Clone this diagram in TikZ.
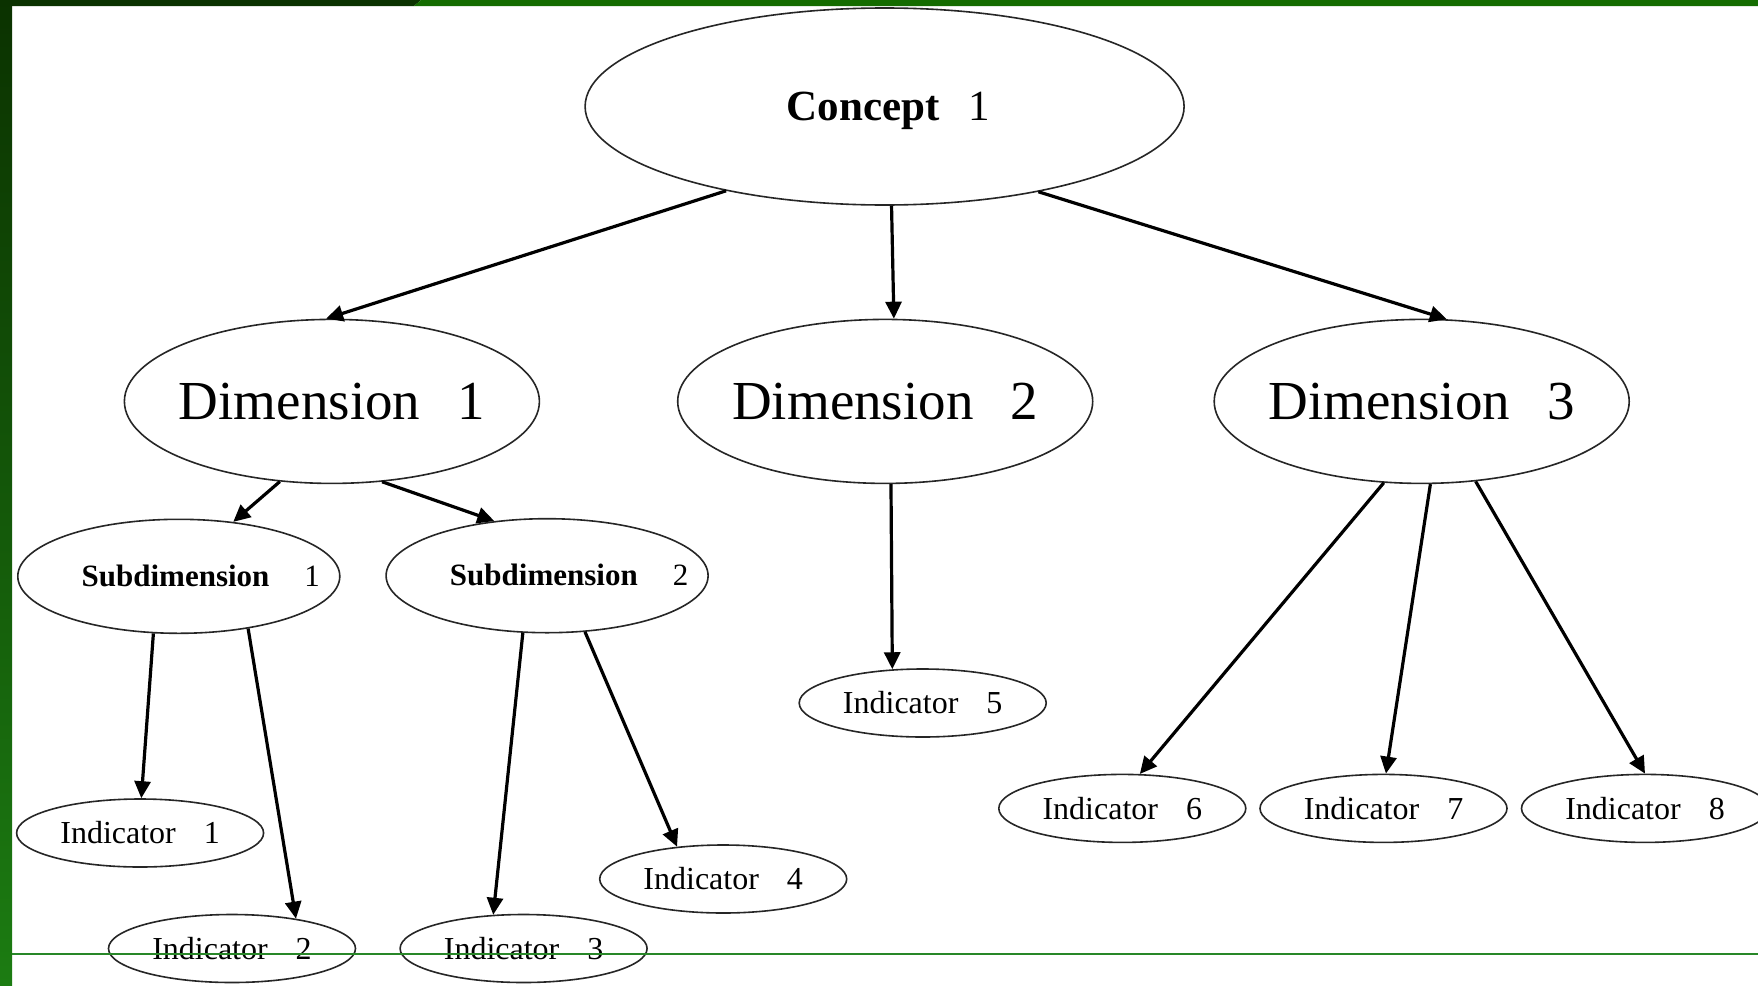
\documentclass[tikz,border=0pt]{standalone}
\usepackage{fontspec}
\setmainfont{Liberation Serif}
\usetikzlibrary{arrows.meta,shapes.geometric}
\definecolor{framedark}{RGB}{11,50,0}
\definecolor{frametop}{RGB}{20,108,0}
\definecolor{framebottom}{RGB}{28,124,18}
\definecolor{rulegreen}{RGB}{40,135,40}
\newcommand{\zw}[1]{\makebox[0pt]{#1}}
\begin{document}
\begin{tikzpicture}[x=1pt,y=-1pt,
  ell/.style={ellipse, draw=black!85, line width=1.6pt, inner sep=0pt, fill=white, text depth=0pt},
  conc/.style={ell, minimum width=599pt, minimum height=197pt, text height=28.5pt, font=\fontsize{43}{50}\selectfont},
  dimnode/.style={ell, minimum width=415pt, minimum height=164pt, text height=36.4pt, font=\fontsize{55}{64}\selectfont},
  subnode/.style={ell, minimum width=322pt, minimum height=114pt, text height=20.5pt, font=\fontsize{31}{36}\selectfont},
  indnode/.style={ell, minimum width=247pt, minimum height=68pt, text height=21.2pt, font=\fontsize{32}{38}\selectfont},
  link/.style={-{Triangle[length=17pt,width=16pt]}, line width=3.2pt, black}]
\useasboundingbox (0,0) rectangle (1758,985);
\fill[white] (0,0) rectangle (1758,985);

% nodes
\node[conc] (c) at (884.6,106.5) {\zw{\hspace{8pt}\textbf{Concept}\hspace{29pt}1}};
\node[dimnode] (d1) at (331.9,401.4) {\zw{Dimension\hspace{37pt}1}};
\node[dimnode] (d2) at (885.2,401.4) {\zw{Dimension\hspace{37pt}2}};
\node[dimnode] (d3) at (1421.7,401.4) {\zw{Dimension\hspace{37pt}3}};
\node[subnode] (s1) at (178.8,576.3) {\zw{\hspace{44pt}\textbf{Subdimension}\hspace{35pt}1}};
\node[subnode] (s2) at (547.1,575.7) {\zw{\hspace{44pt}\textbf{Subdimension}\hspace{35pt}2}};
\node[indnode] (i1) at (140.1,833) {\zw{Indicator\hspace{28pt}1}};
\node[indnode] (i2) at (232,948.5) {\zw{Indicator\hspace{28pt}2}};
\node[indnode] (i3) at (523.6,948.5) {\zw{Indicator\hspace{28pt}3}};
\node[indnode] (i4) at (723.2,879) {\zw{Indicator\hspace{28pt}4}};
\node[indnode] (i5) at (922.7,703) {\zw{Indicator\hspace{28pt}5}};
\node[indnode] (i6) at (1122.3,808.4) {\zw{Indicator\hspace{28pt}6}};
\node[indnode] (i7) at (1383.5,808.4) {\zw{Indicator\hspace{28pt}7}};
\node[indnode] (i8) at (1645,808.4) {\zw{Indicator\hspace{28pt}8}};

% connectors
\draw[link] (c.208.3) -- (d1.94.7);
\draw[link] (c.274.2) -- (d2.84.9);
\draw[link] (c.331.7) -- (d3.73.3);
\draw[link] (d1.237.4) -- (s1.45.4);
\draw[link] (d1.302.6) -- (s2.134);
\draw[link] (d2.274.9) -- (i5.132.8);
\draw[link] (d3.245.3) -- (i6.63.2);
\draw[link] (d3.276.3) -- (i7.86);
\draw[link] (d3.304.3) -- (i8.90);
\draw[link] (s1.246.9) -- (i1.88);
\draw[link] (s1.323.2) -- (i2.25.2);
\draw[link] (s2.247.4) -- (i3.132.9);
\draw[link] (s2.304.5) -- (i4.145.9);

% frame
\shade[top color=framedark, bottom color=framebottom] (0,0) rectangle (12,985);
\fill[framedark] (0,0) -- (421,0) -- (414,6) -- (0,6) -- cycle;
\fill[frametop] (421,0) -- (1758,0) -- (1758,6) -- (414,6) -- cycle;
\draw[draw=rulegreen, line width=1.4pt] (12,954) -- (1758,954);
\end{tikzpicture}
\end{document}
